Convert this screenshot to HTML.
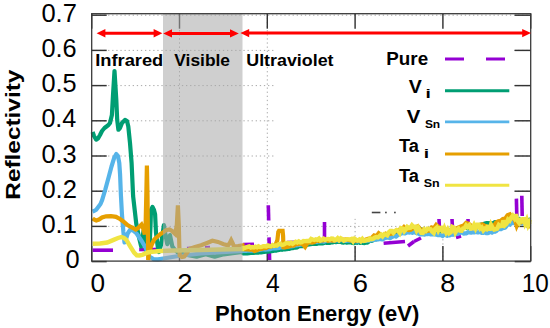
<!DOCTYPE html>
<html lang="en"><head><meta charset="utf-8"><title>Reflectivity vs Photon Energy</title>
<style>html,body{margin:0;padding:0;background:#fff}body{width:550px;height:328px;overflow:hidden}svg{display:block}</style>
</head><body>
<svg width="550" height="328" viewBox="0 0 550 328">
<rect width="550" height="328" fill="#fff"/>
<g stroke="#a8a8a8" stroke-width="1" stroke-dasharray="1.3,2.8"><line x1="91.7" y1="226.4" x2="530.7" y2="226.4"/><line x1="91.7" y1="191.2" x2="530.7" y2="191.2"/><line x1="91.7" y1="156.0" x2="530.7" y2="156.0"/><line x1="91.7" y1="120.8" x2="530.7" y2="120.8"/><line x1="91.7" y1="85.6" x2="530.7" y2="85.6"/><line x1="91.7" y1="50.4" x2="530.7" y2="50.4"/><line x1="91.7" y1="15.2" x2="530.7" y2="15.2"/><line x1="179.5" y1="13.7" x2="179.5" y2="261.1"/><line x1="267.3" y1="13.7" x2="267.3" y2="261.1"/><line x1="355.1" y1="13.7" x2="355.1" y2="261.1"/><line x1="442.9" y1="13.7" x2="442.9" y2="261.1"/></g>
<rect x="274.5" y="16" width="239.5" height="202.5" fill="#fff"/><rect x="438" y="216" width="12" height="9" fill="#fff"/>
<g stroke="#333" stroke-width="1.45"><line x1="91.7" y1="261.6" x2="106.7" y2="261.6"/><line x1="530.7" y1="261.6" x2="514.7" y2="261.6"/><line x1="91.7" y1="226.4" x2="106.7" y2="226.4"/><line x1="530.7" y1="226.4" x2="514.7" y2="226.4"/><line x1="91.7" y1="191.2" x2="106.7" y2="191.2"/><line x1="530.7" y1="191.2" x2="514.7" y2="191.2"/><line x1="91.7" y1="156.0" x2="106.7" y2="156.0"/><line x1="530.7" y1="156.0" x2="514.7" y2="156.0"/><line x1="91.7" y1="120.8" x2="106.7" y2="120.8"/><line x1="530.7" y1="120.8" x2="514.7" y2="120.8"/><line x1="91.7" y1="85.6" x2="106.7" y2="85.6"/><line x1="530.7" y1="85.6" x2="514.7" y2="85.6"/><line x1="91.7" y1="50.4" x2="106.7" y2="50.4"/><line x1="530.7" y1="50.4" x2="514.7" y2="50.4"/><line x1="91.7" y1="15.2" x2="106.7" y2="15.2"/><line x1="530.7" y1="15.2" x2="514.7" y2="15.2"/><line x1="91.7" y1="261.1" x2="91.7" y2="246.10000000000002"/><line x1="91.7" y1="13.7" x2="91.7" y2="28.7"/><line x1="179.5" y1="261.1" x2="179.5" y2="246.10000000000002"/><line x1="179.5" y1="13.7" x2="179.5" y2="28.7"/><line x1="267.3" y1="261.1" x2="267.3" y2="246.10000000000002"/><line x1="267.3" y1="13.7" x2="267.3" y2="28.7"/><line x1="355.1" y1="261.1" x2="355.1" y2="246.10000000000002"/><line x1="355.1" y1="13.7" x2="355.1" y2="28.7"/><line x1="442.9" y1="261.1" x2="442.9" y2="246.10000000000002"/><line x1="442.9" y1="13.7" x2="442.9" y2="28.7"/><line x1="530.7" y1="261.1" x2="530.7" y2="246.10000000000002"/><line x1="530.7" y1="13.7" x2="530.7" y2="28.7"/></g>
<g stroke="#9400d3"><line x1="92.6" y1="250.2" x2="113" y2="250.2" stroke-width="3.6"/><line x1="139.2" y1="249.5" x2="160" y2="249.5" stroke-width="3.6"/><line x1="187" y1="248" x2="191" y2="247.6" stroke-width="2.4"/><line x1="205" y1="247.2" x2="210" y2="247" stroke-width="2.4"/><line x1="243" y1="244.6" x2="254" y2="244.2" stroke-width="3.6"/><line x1="268.3" y1="205.3" x2="268.7" y2="220.5" stroke-width="3.6"/><line x1="269" y1="237.4" x2="269.6" y2="260" stroke-width="3.6"/><line x1="287" y1="242.6" x2="295" y2="242.2" stroke-width="3.6"/><line x1="324.5" y1="222" x2="324.5" y2="240" stroke-width="3.6"/><line x1="383.6" y1="243.2" x2="405" y2="241.5" stroke-width="3.6"/><line x1="408" y1="246" x2="414" y2="241.5" stroke-width="3.6"/><line x1="414" y1="241.5" x2="421" y2="238" stroke-width="3.6"/><line x1="439" y1="219" x2="439.5" y2="230" stroke-width="3.6"/><line x1="452" y1="219" x2="452.6" y2="230" stroke-width="3.6"/><line x1="468" y1="219" x2="468.5" y2="230" stroke-width="3.6"/><line x1="456" y1="237.5" x2="461" y2="236" stroke-width="3.6"/><line x1="516.4" y1="198.6" x2="516.8" y2="216" stroke-width="3.6"/><line x1="521.8" y1="195.7" x2="522.2" y2="216" stroke-width="3.6"/></g>
<path d="M92.6,132.0 L94.0,136.0 L96.2,139.6 L98.0,138.5 L100.0,135.0 L102.0,131.0 L104.5,128.0 L106.5,126.5 L108.6,124.8 L110.0,123.0 L111.9,115.0 L113.0,95.0 L114.5,71.0 L116.3,100.0 L117.2,120.0 L118.4,129.7 L120.0,128.0 L122.0,123.0 L125.0,119.9 L127.0,121.0 L128.3,126.5 L130.0,143.0 L131.6,163.0 L133.1,196.0 L136.3,224.0 L139.1,237.7 L141.2,246.5 L142.3,240.0 L143.5,231.0 L144.8,240.0 L146.0,250.0 L148.0,252.0 L149.5,248.0 L150.5,226.0 L151.0,210.0 L152.5,207.0 L154.0,210.0 L155.1,214.3 L156.0,233.0 L157.8,247.0 L159.0,252.0 L161.0,245.0 L163.9,225.0 L165.5,235.0 L167.3,244.2 L170.0,235.1 L172.3,246.4 L175.0,250.0 L178.6,253.2 L189.9,255.5 L196.6,256.6 L205.7,254.3 L214.7,256.6 L223.7,254.3 L232.7,253.2 L242.5,252.0 L243.0,253.4 L244.5,253.4 L246.0,253.3 L247.5,253.3 L249.0,253.2 L250.5,252.9 L252.0,252.7 L253.5,253.0 L255.0,252.7 L256.5,252.5 L258.0,252.7 L259.5,252.3 L261.0,252.4 L262.5,252.1 L264.0,252.0 L265.5,251.6 L267.0,251.7 L268.5,251.7 L270.0,251.3 L271.5,251.2 L273.0,250.9 L274.5,250.4 L276.0,250.6 L277.5,250.3 L279.0,249.9 L280.5,249.5 L282.0,249.8 L283.5,249.3 L285.0,249.3 L286.5,249.2 L288.0,248.9 L289.5,248.8 L291.0,248.2 L292.5,248.2 L294.0,247.7 L295.5,247.7 L297.0,247.4 L298.5,246.5 L300.0,246.2 L301.5,246.0 L303.0,246.2 L304.5,245.5 L306.0,245.3 L307.5,244.7 L309.0,244.5 L310.5,244.2 L312.0,243.9 L313.5,244.0 L315.0,243.8 L316.5,243.9 L318.0,243.5 L319.5,243.5 L321.0,243.4 L322.5,243.4 L324.0,243.0 L325.5,242.5 L327.0,243.0 L328.5,243.0 L330.0,242.8 L331.5,242.3 L333.0,242.3 L334.5,241.7 L336.0,242.1 L337.5,242.0 L339.0,241.8 L340.5,241.6 L342.0,242.5 L343.5,242.7 L345.0,241.9 L346.5,242.7 L348.0,242.4 L349.5,242.2 L351.0,242.4 L352.5,243.0 L354.0,243.2 L355.5,242.3 L357.0,242.9 L358.5,242.2 L360.0,242.9 L361.5,242.4 L363.0,243.0 L364.5,243.1 L366.0,242.5 L367.5,242.6 L369.0,241.4 L370.5,240.7 L372.0,240.8 L373.5,239.7 L375.0,239.5 L376.5,239.3 L378.0,239.0 L379.5,238.1 L381.0,237.3 L382.5,237.7 L384.0,236.3 L385.5,236.4 L387.0,235.7 L388.5,234.3 L390.0,233.8 L391.5,233.4 L393.0,233.1 L394.5,232.5 L396.0,232.0 L397.5,231.5 L399.0,231.4 L400.5,230.2 L402.0,229.6 L403.5,229.7 L405.0,228.8 L406.5,228.6 L408.0,229.3 L409.5,228.4 L411.0,228.2 L412.5,227.2 L414.0,227.9 L415.5,228.5 L417.0,228.1 L418.5,229.3 L420.0,229.7 L421.5,229.3 L423.0,230.5 L424.5,230.4 L426.0,230.5 L427.5,229.8 L429.0,230.0 L430.5,229.8 L432.0,228.9 L433.5,229.3 L435.0,230.6 L436.5,231.4 L438.0,230.6 L439.5,230.9 L441.0,231.1 L442.5,230.7 L444.0,230.8 L445.5,230.6 L447.0,230.5 L448.5,230.6 L450.0,229.9 L451.5,229.7 L453.0,230.1 L454.5,228.7 L456.0,229.4 L457.5,229.5 L459.0,228.6 L460.5,228.3 L462.0,229.1 L463.5,228.0 L465.0,227.8 L466.5,228.0 L468.0,228.3 L469.5,227.1 L471.0,227.3 L472.5,227.2 L474.0,228.1 L475.5,227.4 L477.0,227.5 L478.5,225.5 L480.0,224.9 L481.5,224.6 L483.0,224.3 L484.5,223.5 L486.0,223.2 L487.5,223.0 L489.0,223.7 L490.5,223.0 L492.0,223.5 L493.5,223.1 L495.0,222.0 L496.5,222.6 L498.0,224.0 L499.5,224.1 L501.0,224.1 L502.5,222.5 L504.0,221.4 L505.5,221.0 L507.0,221.1 L508.5,219.3 L510.0,218.5 L511.5,218.2 L513.0,217.7 L514.5,217.3 L516.0,219.3 L517.5,218.8 L519.0,218.9 L520.5,221.0 L522.0,221.1 L523.5,221.6 L525.0,220.8 L526.5,221.9 L528.0,221.5 L529.5,219.7 L530.4,220.0" fill="none" stroke="#009e73" stroke-width="4.2" stroke-linejoin="round" stroke-miterlimit="3" stroke-linecap="butt"/>
<path d="M92.6,211.4 L94.0,211.0 L96.2,209.7 L100.5,204.0 L102.2,199.9 L105.3,189.5 L108.7,177.0 L111.5,166.5 L114.4,157.2 L116.3,154.0 L118.0,156.0 L119.3,163.2 L120.1,175.0 L120.9,195.0 L122.0,215.0 L123.4,232.0 L124.5,242.5 L125.8,240.0 L127.7,233.5 L130.2,229.7 L133.0,230.5 L136.6,233.5 L141.8,241.2 L145.6,247.6 L149.4,256.6 L153.3,259.1 L158.0,259.3 L163.2,258.5 L178.6,256.0 L201.0,253.5 L242.5,251.0 L243.0,250.9 L244.5,250.8 L246.0,250.8 L247.5,250.6 L249.0,250.5 L250.5,250.6 L252.0,250.7 L253.5,250.6 L255.0,250.5 L256.5,250.1 L258.0,250.2 L259.5,249.9 L261.0,249.7 L262.5,249.5 L264.0,249.5 L265.5,249.7 L267.0,249.5 L268.5,249.4 L270.0,249.2 L271.5,248.6 L273.0,248.5 L274.5,248.5 L276.0,248.3 L277.5,248.2 L279.0,248.0 L280.5,247.4 L282.0,247.5 L283.5,247.3 L285.0,247.0 L286.5,246.6 L288.0,246.6 L289.5,246.1 L291.0,246.5 L292.5,246.2 L294.0,245.7 L295.5,245.2 L297.0,245.4 L298.5,244.8 L300.0,244.8 L301.5,244.4 L303.0,243.9 L304.5,243.5 L306.0,243.3 L307.5,242.9 L309.0,242.4 L310.5,242.2 L312.0,242.5 L313.5,241.7 L315.0,241.5 L316.5,241.9 L318.0,241.4 L319.5,241.5 L321.0,241.3 L322.5,241.1 L324.0,241.7 L325.5,240.9 L327.0,241.0 L328.5,240.7 L330.0,241.0 L331.5,240.5 L333.0,240.4 L334.5,240.7 L336.0,240.1 L337.5,240.4 L339.0,240.8 L340.5,240.1 L342.0,240.1 L343.5,240.3 L345.0,240.9 L346.5,240.8 L348.0,240.5 L349.5,240.6 L351.0,240.5 L352.5,240.9 L354.0,240.5 L355.5,241.2 L357.0,241.3 L358.5,241.3 L360.0,241.0 L361.5,241.2 L363.0,240.1 L364.5,240.3 L366.0,241.0 L367.5,240.7 L369.0,240.1 L370.5,240.6 L372.0,240.1 L373.5,240.2 L375.0,239.5 L376.5,239.2 L378.0,239.4 L379.5,238.9 L381.0,239.1 L382.5,239.5 L384.0,238.5 L385.5,237.9 L387.0,237.7 L388.5,237.6 L390.0,238.2 L391.5,237.2 L393.0,236.6 L394.5,235.9 L396.0,236.6 L397.5,235.3 L399.0,234.5 L400.5,233.8 L402.0,233.2 L403.5,233.1 L405.0,233.5 L406.5,232.6 L408.0,232.2 L409.5,232.6 L411.0,232.0 L412.5,232.8 L414.0,231.7 L415.5,232.7 L417.0,233.4 L418.5,233.3 L420.0,234.5 L421.5,234.2 L423.0,234.3 L424.5,234.7 L426.0,233.9 L427.5,234.2 L429.0,233.7 L430.5,234.5 L432.0,234.5 L433.5,234.4 L435.0,234.1 L436.5,234.8 L438.0,235.1 L439.5,235.1 L441.0,235.1 L442.5,236.1 L444.0,234.9 L445.5,234.7 L447.0,235.8 L448.5,235.0 L450.0,235.4 L451.5,234.3 L453.0,234.8 L454.5,234.2 L456.0,234.2 L457.5,234.0 L459.0,233.4 L460.5,232.6 L462.0,232.6 L463.5,233.6 L465.0,233.4 L466.5,233.3 L468.0,232.2 L469.5,232.5 L471.0,232.6 L472.5,232.2 L474.0,232.5 L475.5,232.0 L477.0,232.3 L478.5,232.3 L480.0,231.6 L481.5,232.8 L483.0,232.9 L484.5,231.4 L486.0,233.1 L487.5,233.2 L489.0,232.7 L490.5,231.5 L492.0,232.6 L493.5,230.8 L495.0,231.8 L496.5,230.9 L498.0,229.3 L499.5,229.0 L501.0,229.2 L502.5,228.3 L504.0,227.9 L505.5,227.4 L507.0,225.2 L508.5,223.8 L510.0,224.6 L511.5,222.4 L513.0,223.1 L514.5,220.5 L516.0,222.4 L517.5,223.0 L519.0,223.3 L520.5,222.6 L522.0,223.4 L523.5,222.1 L525.0,223.2 L526.5,222.7 L528.0,224.0 L529.5,223.9 L530.4,223.5" fill="none" stroke="#56b4e9" stroke-width="4.2" stroke-linejoin="round" stroke-miterlimit="3" stroke-linecap="butt"/>
<path d="M92.6,218.3 L94.0,219.5 L96.2,220.4 L99.0,219.5 L102.0,217.5 L106.1,216.3 L111.0,216.2 L116.0,216.8 L120.0,219.0 L124.2,222.1 L127.5,225.0 L130.8,227.0 L133.0,228.0 L135.7,229.5 L138.0,228.0 L141.5,224.6 L143.0,228.0 L144.8,234.4 L145.6,225.0 L146.3,195.0 L146.9,165.6 L147.5,195.0 L147.9,230.0 L148.2,260.0 L149.0,252.0 L150.5,248.0 L152.2,243.5 L154.2,239.5 L160.6,234.0 L163.3,232.2 L166.0,230.3 L169.5,229.5 L172.0,231.0 L175.2,234.0 L176.8,225.0 L177.9,205.3 L178.8,225.0 L179.3,245.0 L179.7,255.5 L182.0,257.0 L184.2,256.6 L187.0,253.0 L189.9,248.7 L195.0,247.0 L201.1,245.3 L207.0,243.0 L212.4,240.8 L218.0,241.9 L223.7,244.2 L228.2,245.3 L229.8,243.0 L231.2,240.2 L232.6,243.0 L233.9,246.4 L238.0,246.0 L242.5,245.3 L243.0,249.1 L245.3,249.3 L247.6,249.4 L249.9,249.6 L252.2,249.5 L254.5,251.0 L256.8,250.3 L259.1,249.2 L261.4,248.9 L263.7,248.2 L266.0,248.1 L268.3,246.7 L270.6,246.6 L272.9,245.9 L275.2,245.7 L277.4,240.0 L278.3,232.0 L279.0,230.8 L282.6,230.8 L283.1,236.0 L283.5,249.0 L284.4,246.3 L286.7,247.1 L289.0,246.5 L291.3,245.3 L293.6,245.6 L295.9,244.1 L298.2,244.1 L300.5,243.2 L302.8,244.2 L305.1,246.9 L307.4,243.1 L309.7,242.2 L312.0,242.7 L314.3,242.0 L316.6,240.5 L318.9,241.0 L321.2,240.1 L323.5,240.3 L325.8,239.6 L328.1,240.8 L330.4,240.3 L332.7,240.7 L335.0,240.5 L337.3,239.5 L339.6,239.7 L341.9,239.5 L344.2,239.5 L346.5,239.4 L348.8,239.9 L351.1,240.5 L353.4,239.5 L355.7,240.8 L358.0,240.1 L360.3,239.9 L362.6,240.8 L364.9,240.0 L367.2,239.1 L369.5,238.4 L371.8,237.8 L374.1,235.4 L376.4,236.2 L378.7,233.2 L381.0,234.9 L383.3,235.4 L385.6,233.6 L387.9,234.6 L390.2,233.8 L392.5,233.5 L394.8,231.5 L397.1,230.8 L399.4,229.6 L401.7,229.5 L404.0,227.0 L406.3,229.2 L408.6,230.1 L410.9,229.7 L413.2,228.0 L415.5,227.1 L417.8,226.3 L420.1,229.3 L422.4,229.8 L424.7,231.4 L427.0,230.9 L429.3,230.5 L431.6,227.5 L433.9,228.3 L436.2,224.9 L438.5,226.9 L440.8,228.5 L443.1,230.6 L445.4,230.4 L447.7,232.4 L450.0,230.8 L452.3,229.6 L454.6,229.1 L456.9,228.2 L459.2,227.2 L461.5,226.2 L463.8,225.5 L466.1,222.9 L468.4,223.6 L470.7,225.4 L473.0,228.0 L475.3,227.1 L477.6,227.0 L479.9,225.1 L482.2,224.3 L484.5,225.6 L486.8,226.5 L489.1,227.3 L491.4,225.5 L493.7,226.6 L496.0,222.5 L498.3,221.3 L500.6,220.9 L502.9,219.0 L505.2,218.6 L507.5,215.3 L509.8,214.4 L512.1,218.4 L514.4,218.1 L516.7,225.9 L519.0,220.7 L521.3,222.2 L523.6,220.3 L525.9,222.2 L528.2,226.4 L530.4,226.3" fill="none" stroke="#e69f00" stroke-width="4.2" stroke-linejoin="miter" stroke-miterlimit="3" stroke-linecap="butt"/>
<path d="M92.6,243.8 L100.0,243.5 L107.2,242.5 L113.6,239.9 L118.0,238.0 L121.3,237.1 L124.0,238.0 L126.4,239.9 L130.2,246.3 L134.1,252.7 L136.8,255.3 L139.2,255.5 L142.3,254.8 L147.8,252.5 L152.0,251.8 L160.6,251.0 L174.0,250.5 L200.0,250.0 L220.0,249.5 L242.5,249.0 L243.0,248.0 L244.6,248.0 L246.1,247.3 L247.7,246.9 L249.2,246.4 L250.8,247.5 L252.3,247.1 L253.9,247.5 L255.4,246.7 L257.0,247.3 L258.5,246.3 L260.1,247.1 L261.6,246.9 L263.2,246.2 L264.7,246.3 L266.3,246.5 L267.8,245.4 L269.4,245.9 L270.9,246.2 L272.5,245.0 L274.0,245.8 L275.6,245.4 L277.1,245.5 L278.7,244.3 L280.2,243.7 L281.8,244.9 L283.3,244.7 L284.9,243.8 L286.4,242.9 L288.0,242.9 L289.5,243.6 L291.1,242.7 L292.6,243.8 L294.2,242.8 L295.7,241.7 L297.3,242.4 L298.8,241.4 L300.4,242.4 L301.9,242.1 L303.5,241.0 L305.0,241.1 L306.6,241.0 L308.1,241.0 L309.7,241.1 L311.2,238.9 L312.8,239.5 L314.3,240.0 L315.9,239.3 L317.4,239.8 L319.0,238.6 L320.5,240.4 L322.1,239.6 L323.6,238.7 L325.2,239.9 L326.7,239.1 L328.3,238.9 L329.8,239.5 L331.4,238.6 L332.9,238.7 L334.5,240.2 L336.0,239.8 L337.6,238.2 L339.1,240.1 L340.7,238.3 L342.2,239.1 L343.8,240.6 L345.3,239.9 L346.9,239.2 L348.4,239.4 L350.0,239.5 L351.5,238.9 L353.1,241.2 L354.6,238.8 L356.2,239.7 L357.7,240.5 L359.3,239.5 L360.8,241.1 L362.4,239.0 L363.9,240.9 L365.5,240.6 L367.0,239.8 L368.6,240.0 L370.1,238.4 L371.7,239.2 L373.2,238.7 L374.8,237.6 L376.3,237.1 L377.9,237.4 L379.4,236.2 L381.0,234.8 L382.5,236.4 L384.1,234.3 L385.6,234.6 L387.2,235.4 L388.7,232.3 L390.3,231.0 L391.8,230.9 L393.4,232.8 L394.9,231.1 L396.5,229.9 L398.0,230.5 L399.6,232.7 L401.1,228.2 L402.7,228.7 L404.2,231.3 L405.8,229.4 L407.3,226.9 L408.9,228.0 L410.4,227.8 L412.0,225.3 L413.5,226.8 L415.1,226.8 L416.6,230.5 L418.2,227.7 L419.7,230.3 L421.3,232.8 L422.8,232.9 L424.4,229.5 L425.9,230.8 L427.5,228.7 L429.0,228.9 L430.6,229.3 L432.1,231.5 L433.7,232.9 L435.2,228.9 L436.8,227.4 L438.3,230.7 L439.9,228.0 L441.4,227.8 L443.0,232.8 L444.5,228.4 L446.1,232.3 L447.6,229.6 L449.2,233.3 L450.7,232.4 L452.3,226.8 L453.8,227.5 L455.4,232.4 L456.9,229.9 L458.5,228.5 L460.0,230.7 L461.6,230.8 L463.1,228.4 L464.7,228.1 L466.2,225.4 L467.8,227.0 L469.3,225.4 L470.9,228.5 L472.4,228.2 L474.0,225.1 L475.5,228.4 L477.1,224.8 L478.6,224.8 L480.2,228.5 L481.7,227.3 L483.3,230.4 L484.8,228.6 L486.4,229.2 L487.9,225.3 L489.5,230.3 L491.0,224.8 L492.6,228.0 L494.1,229.6 L495.7,229.1 L497.2,228.6 L498.8,225.0 L500.3,226.2 L501.9,225.9 L503.4,220.5 L505.0,225.1 L506.5,223.8 L508.1,219.5 L509.6,220.7 L511.2,217.6 L512.7,215.7 L514.3,218.1 L515.8,214.4 L517.4,220.6 L518.9,222.6 L520.5,218.1 L522.0,223.1 L523.6,217.5 L525.1,223.3 L526.7,219.8 L528.2,225.1 L529.8,221.8 L530.4,222.5" fill="none" stroke="#f0e442" stroke-width="4.4" stroke-linejoin="miter" stroke-miterlimit="3" stroke-linecap="butt"/>
<rect x="163" y="13.7" width="79.5" height="247.4" fill="#a8a8a8" fill-opacity="0.55"/>
<rect x="91.7" y="13.7" width="439.0" height="247.4" fill="none" stroke="#3a3a3a" stroke-width="1.3"/>
<line x1="104.39999999999999" y1="33.2" x2="154.6" y2="33.2" stroke="#ff0000" stroke-width="3"/><polygon points="96.6,33.2 105.39999999999999,29.000000000000004 105.39999999999999,37.400000000000006" fill="#ff0000"/><polygon points="162.4,33.2 153.6,29.000000000000004 153.6,37.400000000000006" fill="#ff0000"/>
<line x1="171.0" y1="33.4" x2="231.0" y2="33.4" stroke="#ff0000" stroke-width="3"/><polygon points="163.2,33.4 172.0,29.2 172.0,37.6" fill="#ff0000"/><polygon points="238.8,33.4 230.0,29.2 230.0,37.6" fill="#ff0000"/>
<line x1="248.20000000000002" y1="33.1" x2="523.2" y2="33.1" stroke="#ff0000" stroke-width="3"/><polygon points="240.4,33.1 249.20000000000002,28.900000000000002 249.20000000000002,37.300000000000004" fill="#ff0000"/><polygon points="531,33.1 522.2,28.900000000000002 522.2,37.300000000000004" fill="#ff0000"/>
<line x1="371.8" y1="212.5" x2="380.4" y2="212.5" stroke="#444" stroke-width="1.6"/>
<rect x="385" y="211.7" width="1.8" height="1.6" fill="#555"/><rect x="394" y="211.7" width="1.8" height="1.6" fill="#555"/>
<line x1="445" y1="59" x2="505" y2="59" stroke="#9400d3" stroke-width="3" stroke-dasharray="19,22"/>
<line x1="445" y1="90.8" x2="509.3" y2="90.8" stroke="#009e73" stroke-width="2.9"/>
<line x1="445" y1="121.9" x2="509.3" y2="121.9" stroke="#56b4e9" stroke-width="2.9"/>
<line x1="445" y1="154" x2="509.3" y2="154" stroke="#e69f00" stroke-width="2.9"/>
<line x1="445" y1="185.2" x2="509.3" y2="185.2" stroke="#f0e442" stroke-width="2.9"/>
<text transform="translate(41.38,233.00) scale(1.0215,1)" font-size="25" font-family="'Liberation Sans', sans-serif" fill="#000">0.1</text>
<text transform="translate(41.38,197.80) scale(1.0215,1)" font-size="25" font-family="'Liberation Sans', sans-serif" fill="#000">0.2</text>
<text transform="translate(41.39,162.60) scale(1.0137,1)" font-size="25" font-family="'Liberation Sans', sans-serif" fill="#000">0.3</text>
<text transform="translate(41.39,127.40) scale(1.0061,1)" font-size="25" font-family="'Liberation Sans', sans-serif" fill="#000">0.4</text>
<text transform="translate(41.39,92.20) scale(1.0137,1)" font-size="25" font-family="'Liberation Sans', sans-serif" fill="#000">0.5</text>
<text transform="translate(41.39,57.00) scale(1.0137,1)" font-size="25" font-family="'Liberation Sans', sans-serif" fill="#000">0.6</text>
<text transform="translate(41.38,21.80) scale(1.0215,1)" font-size="25" font-family="'Liberation Sans', sans-serif" fill="#000">0.7</text>
<text transform="translate(65.58,267.70) scale(1.0167,1)" font-size="25" font-family="'Liberation Sans', sans-serif" fill="#000">0</text>
<text transform="translate(90.55,292.40) scale(1.0500,1)" font-size="25" font-family="'Liberation Sans', sans-serif" fill="#000">0</text>
<text transform="translate(177.13,292.40) scale(1.0957,1)" font-size="25" font-family="'Liberation Sans', sans-serif" fill="#000">2</text>
<text transform="translate(265.91,292.40) scale(0.9882,1)" font-size="25" font-family="'Liberation Sans', sans-serif" fill="#000">4</text>
<text transform="translate(352.83,292.40) scale(1.0957,1)" font-size="25" font-family="'Liberation Sans', sans-serif" fill="#000">6</text>
<text transform="translate(440.23,292.40) scale(1.0723,1)" font-size="25" font-family="'Liberation Sans', sans-serif" fill="#000">8</text>
<text transform="translate(521.65,292.40) scale(0.9737,1)" font-size="25" font-family="'Liberation Sans', sans-serif" fill="#000">10</text>
<text transform="translate(215.05,320.70) scale(1.0338,1)" font-size="21.3" font-family="'Liberation Sans', sans-serif" font-weight="bold" fill="#000">Photon Energy (eV)</text>
<text transform="translate(19.70,199.73) rotate(-90) scale(1.1558,1)" font-size="21.1" font-family="'Liberation Sans', sans-serif" font-weight="bold" fill="#000">Reflectivity</text>
<text transform="translate(95.17,65.90) scale(1.0650,1)" font-size="17.2" font-family="'Liberation Sans', sans-serif" font-weight="bold" fill="#000">Infrared</text>
<text transform="translate(174.35,65.90) scale(1.0101,1)" font-size="17.2" font-family="'Liberation Sans', sans-serif" font-weight="bold" fill="#000">Visible</text>
<text transform="translate(246.26,65.90) scale(1.0381,1)" font-size="17.2" font-family="'Liberation Sans', sans-serif" font-weight="bold" fill="#000">Ultraviolet</text>
<text transform="translate(386.27,65.20) scale(0.9816,1)" font-size="19.2" font-family="'Liberation Sans', sans-serif" font-weight="bold" fill="#000">Pure</text>
<text transform="translate(408.64,92.90) scale(1.0204,1)" font-size="19.2" font-family="'Liberation Sans', sans-serif" font-weight="bold" fill="#000">V</text>
<text transform="translate(425.60,98.40) scale(1.6000,1)" font-size="12" font-family="'Liberation Sans', sans-serif" font-weight="bold" fill="#000">i</text>
<text transform="translate(406.63,123.10) scale(1.0612,1)" font-size="19.2" font-family="'Liberation Sans', sans-serif" font-weight="bold" fill="#000">V</text>
<text transform="translate(424.88,127.70) scale(1.0327,1)" font-size="11.6" font-family="'Liberation Sans', sans-serif" font-weight="bold" fill="#000">Sn</text>
<text transform="translate(399.06,152.40) scale(0.9494,1)" font-size="19.2" font-family="'Liberation Sans', sans-serif" font-weight="bold" fill="#000">Ta</text>
<text transform="translate(423.70,157.80) scale(1.6000,1)" font-size="12" font-family="'Liberation Sans', sans-serif" font-weight="bold" fill="#000">i</text>
<text transform="translate(399.06,182.00) scale(0.9494,1)" font-size="19.2" font-family="'Liberation Sans', sans-serif" font-weight="bold" fill="#000">Ta</text>
<text transform="translate(423.66,187.20) scale(1.0764,1)" font-size="11.6" font-family="'Liberation Sans', sans-serif" font-weight="bold" fill="#000">Sn</text>
</svg>
</body></html>
